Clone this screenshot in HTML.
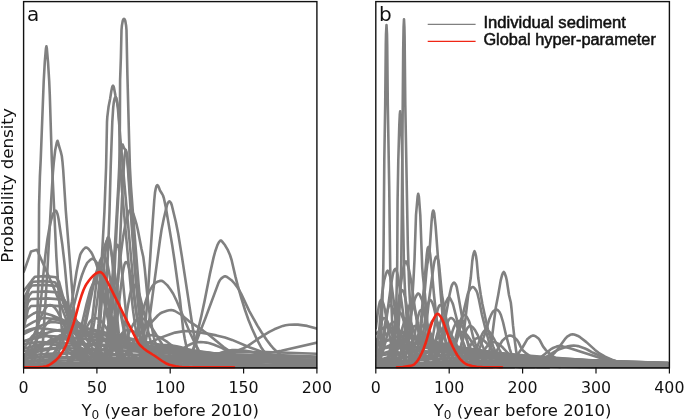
<!DOCTYPE html>
<html><head><meta charset="utf-8"><title>Probability density of Y0</title>
<style>
html,body{margin:0;padding:0;background:#fff}
body{width:685px;height:420px;overflow:hidden}
text{font-family:"DejaVu Sans","Liberation Sans",sans-serif;fill:#111}
.tk{font-size:15.8px}
.lb{font-size:16px}
.pl{font-size:20px}
.lg{font-family:"Liberation Sans","DejaVu Sans",sans-serif;font-size:15.8px;stroke:#111;stroke-width:0.5px}
</style></head><body>
<svg width="685" height="420" viewBox="0 0 685 420" style="display:block">
<rect width="685" height="420" fill="#fff"/>
<clipPath id="clipa"><rect x="23.6" y="1.6" width="293.29999999999995" height="367.7"/></clipPath>
<g clip-path="url(#clipa)" fill="none" stroke-linejoin="round" stroke-linecap="round">
<path d="M24 367.3 28.9 366.9 31 366.5 31.8 366 32.6 364.9 33.4 363.2 35 358 35.9 350 36.8 335 38.3 283.3 38.8 257 39.1 205 39.9 176.4 40.7 160 43.7 81.5 44.8 61.9 45.7 51.2 46 48.2 46.4 46.3 46.8 48.2 48 61.9 49.2 81.1 49.8 95 51.8 160 56.4 257 59.3 301.4 61.6 327 63.2 340.5 64 345 66.2 353.8 68.5 359.8 70 362 72.1 363.7 74.3 364.9 80 367.3" stroke="#808080" stroke-width="2.6"/>
<path d="M24 367.3 33.2 366.5 36 366 36.8 365.6 37.5 364.6 39 361.4 40.5 356.5 42 350 42.7 344.3 43.4 335.1 47.3 272 51.2 200 52.9 172.8 53.8 162.5 55.2 150.2 56.8 142.5 57.5 140.8 58.2 142.7 59 146 60.8 151.9 61.8 156 62.5 161.8 63.2 170 65.8 210.7 72.5 294.4 74.7 316.3 76.1 328.1 77.6 338 79 345 80.4 349.9 82.5 356 84.6 360.3 86 362 88.8 363.8 90.9 364.8 98 367.3" stroke="#808080" stroke-width="2.6"/>
<path d="M24 367.3 28.5 365.2 30 364 30.8 362.9 32.2 358.4 33.8 351.8 36.7 335.8 38.1 325.3 41 300 44.3 264.5 45.9 250.5 47.5 238.7 49.2 229 50.7 221.9 52.1 216.5 53.5 213 55 211 55.8 210.6 56.5 211.4 57.3 213.4 58 216 58.7 219.7 62.4 245.3 64.7 264.8 67.2 291.9 70.1 319.9 71.6 331.6 73 340 75.1 348.3 76.5 352.9 77.9 356.5 79.3 359.1 81.4 361.4 83.5 362.9 92 367.3" stroke="#808080" stroke-width="2.6"/>
<path d="M88 367.3 95.1 365.8 98.6 364.7 100 364 100.7 363.4 102.1 361.3 104.2 355.7 107 345 107.8 340.6 109.4 327.4 111 310 111.8 299.6 118.3 186.4 119.2 167 119.6 151.2 119.9 122 120.1 80 120.9 57 121.5 30 121.9 25.6 122.7 21 123.1 19.8 123.5 19.2 124 18.9 124.5 19.2 124.9 19.8 125.3 21 126.1 25.6 126.5 30 127.4 75 129.3 146.6 129.9 167 130.9 185.8 134.2 229.7 138.7 285.5 140.2 302.7 141.7 316.2 143.9 333.2 145.3 341.9 147.4 349.9 148.8 354.2 150.2 357.7 151.6 360.3 152.3 361.3 154.4 363 157.9 364.8 165 367.3" stroke="#808080" stroke-width="2.6"/>
<path d="M80 367.3 87.1 365.9 89.2 365.3 92 364 92.7 363 93.4 361 94.9 354.3 97 340 98.5 323.7 100 300 101.9 257 104.4 212 106.1 167 107 122 107.3 117.2 108.6 106.4 110.1 98.9 111.3 91.3 112.2 87 112.6 86.1 113 85.7 113.4 86.1 113.8 87 115.5 95.8 117.3 103.5 118.2 108 118.8 113.3 119.3 122 120.5 167 121.9 189.3 131.6 297.1 133 310 135.2 325.9 136.8 334.9 138.2 342.1 141.1 351.9 142.5 355.8 143.9 359 145.3 361.3 146 362 148.1 363.4 150.9 364.8 158 367.3" stroke="#808080" stroke-width="2.6"/>
<path d="M84 367.3 90.4 366 93.2 365.3 96 364 96.8 363.1 97.5 361.5 98.2 359.2 99.8 352.7 102 340 102.7 334.7 104.1 319.3 105.5 300 107.8 257 109.5 212 110.7 167 112.3 122 113.2 107.7 113.8 102.3 114.5 99 115 97.6 115.5 97 116.2 97.9 116.8 100 117.7 106.1 120.5 140 134.6 297.1 136 310 139 330.8 140.5 339 142 345 144.9 353.3 146.4 356.7 147.8 359.4 149.3 361.3 152.1 363.4 154.9 364.7 162 367.3" stroke="#808080" stroke-width="2.6"/>
<path d="M92 367.3 99.8 364.7 101.9 363.6 104 362 104.8 360.7 105.5 358.4 106.2 355.1 108.5 341.2 110.8 322.9 112.4 303.6 114.8 266.7 117 220 120.2 161.8 121 152 121.8 146.8 122.6 144.5 124 148 125.5 150 126.2 153 127 158 128 169.8 132 230 135.2 271.2 138.9 308.7 141 325 144.5 343.7 145.9 349.3 147.3 353.5 149.4 357.2 151.5 359.9 153.6 361.9 157.9 365.4 160 367.3" stroke="#808080" stroke-width="2.6"/>
<path d="M96 367.3 103.8 364.7 105.9 363.6 108 362 108.8 360.7 109.5 358.4 110.2 355.1 112.5 341.2 114.8 322.9 117.2 292.2 118.8 266.9 122 199.3 123.8 166.7 124.5 157 125.2 152.2 125.8 150 126.5 151.9 127.2 156 128.1 165.4 130.7 202.2 135 270 137.9 302.2 140 320 143.5 340.4 144.9 346.6 146.3 351.3 147.7 354.5 149.9 358.1 152.1 360.9 158 367.3" stroke="#808080" stroke-width="2.6"/>
<path d="M92 367.3 100.4 363.9 103.9 361.9 106 360 106.7 358.9 108.2 354.5 109.6 347.8 111.1 339.4 114.7 314.4 119 270 121.1 251.8 123.2 236.4 125.5 223.8 127 217.5 128.7 212.1 129.5 210.5 130.2 209.8 130.8 209.4 131.7 210.3 133.3 213.7 134.8 218.3 136.4 223.8 137.9 230.2 141.5 249 143.3 257 144.7 268.1 147.6 298 149 310 152.5 330.8 153.9 337.5 155.3 342.8 157.5 349 159.8 354.3 162 358.5 163.5 360.6 165 362 167.9 363.7 170.8 364.9 178 367.3" stroke="#808080" stroke-width="2.6"/>
<path d="M128 367.3 135.1 364.2 136.6 363.3 138 362 138.8 360.8 139.5 358.7 141 352.6 143.2 339.8 144.7 329.9 145.4 323.6 147.5 300 151 245.2 154.2 201 155 192.6 155.7 188.8 156.3 186.5 156.9 185.5 157.4 185.1 158 185.7 158.6 186.8 160 190.5 162.2 194 163 195.5 164 198.7 165.8 207.3 172.2 245.1 174.5 260.2 180 300 183.2 329.6 184.8 339 187 349.6 188.5 354.8 189.2 356.7 190 358 191.4 359.8 192.8 361.2 194.9 362.9 202 367.3" stroke="#808080" stroke-width="2.6"/>
<path d="M128 367.3 135.8 364.6 137.9 363.5 140 362 140.7 361.1 141.4 359.6 142.8 355 145.6 342.1 148.4 326.5 160 240 161.5 230 163.8 218.5 167 205.1 167.8 203 168.6 201.9 169.4 201.4 170.2 201.9 171 203 171.8 205.2 175.9 222.2 178.2 233.8 181.8 255.9 192.9 328.7 194.3 336.8 196.5 345.9 198.8 353.3 200.2 356.8 201 358 203.2 360.4 205.3 362.1 214 367.3" stroke="#808080" stroke-width="2.6"/>
<path d="M180 367.3 185.1 364.4 186.5 363.4 188 362 188.7 361 190.1 358.1 193 350 195.2 341.9 201.4 315.7 204.5 301.4 209.8 274.4 213.6 257.4 215.2 251.5 217.5 244.9 219 242 219.9 241 220.8 240.5 221.5 240.8 222.2 241.6 225.1 245.3 227.9 250.2 230 255 231.6 260 235.5 276.9 237.7 285.4 241.4 298.4 245 310 248.6 320.2 252.3 329.2 257.3 340.2 260.9 346.9 263 350 267.2 354.9 270.8 358.2 273.6 360.2 276.4 361.7 280.7 363.3 295 367.3" stroke="#808080" stroke-width="2.6"/>
<path d="M178 367.3 183.7 363.7 186.6 361.4 188.8 359 190.2 356.5 194.8 346 198.8 335 205.2 318.8 218.6 282.6 220 280 221.4 278.4 223.6 276.7 225 276.2 225.7 276.3 227.1 277 231.5 280.2 234.5 283.5 237.5 287.5 239 289.8 241.2 293.9 249.3 311.1 257.4 325.6 261.8 332.7 266.9 340.2 270.6 345.1 273.5 348.5 277.1 352 281.4 355.6 285 358.3 288.6 360.3 292.1 361.8 296.4 363.3 312 367.3" stroke="#808080" stroke-width="2.6"/>
<path d="M118 367.3 123.7 362.7 126.6 359.9 128.7 356.8 130.2 353.5 132.4 347.1 136.7 332.7 143 310 147.2 296.6 149.3 291.3 152.2 286.4 154.5 283.6 156 282.5 158.2 281.4 159.8 280.9 161.2 280.8 162 280.9 163.6 281.9 167.4 285.4 170.3 289.2 173.2 293.7 176.8 301.2 190.3 333.5 196.2 345.9 198.5 349.9 200 352 202.8 355.4 205.6 358.4 208.5 360.9 210.6 362.3 212.7 363.3 216.4 364.5 228 367.3" stroke="#808080" stroke-width="2.6"/>
<path d="M110 367.3 119.1 359.7 124 355 126.8 351.5 134.5 339.6 138 335 142.2 330.7 150.7 323.1 157.8 315.5 159.9 313.7 162 312.5 167 310.7 169.1 310.2 171.2 310 172.7 310.2 174.9 311 180.8 314.5 188.9 321.1 203.2 330.7 208.2 334.3 223.6 347 232.1 352.9 237.9 356.5 243.6 359.4 249.3 361.6 255.7 363.5 270 367.3" stroke="#808080" stroke-width="2.6"/>
<path d="M190 367.3 210 361 225.7 354.7 237.9 350.5 242.9 348.5 247.9 345.9 258.6 338.4 269.3 331.8 274.3 329.3 282.8 325.9 285.6 325.2 289.2 324.8 294.3 324.5 297.9 324.6 307.2 325.9 317.5 328.8" stroke="#808080" stroke-width="2.6"/>
<path d="M200 367.3 219.3 364.1 227.9 362.5 233.6 361.1 245 357.3 250 356 257.1 354.6 274.3 352 281.4 350.7 317.5 342.5" stroke="#808080" stroke-width="2.6"/>
<path d="M100 367.3 112.9 361.5 119.3 358.4 122.9 356.4 132.1 350.6 135.7 348.6 161.4 337.4 170.1 334.2 175.1 332.6 182.4 331.4 187.5 331 193.4 331.5 207.1 333.6 216.4 335.4 225 337.5 232.1 339.9 250 347.5 262.9 352.1 274.3 355.8 287.9 359.9 296.4 362.2 304.2 363.8 317 366" stroke="#808080" stroke-width="2.6"/>
<path d="M40 367.3 47.8 363.3 49.9 361.8 52 360 52.7 359.2 54.1 356.7 56.3 351.7 67 320.7 70.5 308 72 301.2 76.5 272 78.8 260.6 80.2 254.8 81 253 83.2 249.6 84.8 248.1 85.5 247.6 86.2 247.5 87 247.7 88.6 249 91 252 92.4 254.4 95.3 261.2 98.2 269.9 100.4 278.4 104 295 110 325 114.2 341.9 115.6 346.5 117 350 119.2 354.4 121.5 358.2 123.8 361.1 125.2 362.5 127.4 363.8 129.5 364.7 138 367.3" stroke="#808080" stroke-width="2.6"/>
<path d="M40 367.3 48.4 363.6 52.6 361.1 54 360 55.5 358.3 57.7 354.3 61.3 345.2 65.8 332.9 68 326 74 305 79.8 282.1 82 275 85 267.3 87.2 262.9 90.2 259.8 91.8 258.9 92.5 258.8 93.2 258.9 94.8 260.1 97 263 98.5 265.9 100 270 104.4 285.2 109.3 307 115.6 333.3 118.5 342.3 121.4 350.2 123.5 354.8 125 357 126.4 358.7 130.1 361.8 138 367.3" stroke="#808080" stroke-width="2.6"/>
<path d="M70 367.3 79.1 363.5 81.9 361.8 84 360 84.7 359.1 86.2 356.2 88.4 349.6 92 335 94.2 322.5 98 295 101.2 267.9 103.5 252.1 104.2 247.9 105 245 106.7 240.8 107.5 240 108.3 241 109.2 243.2 110.8 249.2 111.6 253.3 114.8 272.8 120 310 123.8 330.6 125.2 337.2 126.7 342.4 130.4 353.3 131.8 356.6 133.3 359.1 135.4 361.3 137.5 362.9 146 367.3" stroke="#808080" stroke-width="2.6"/>
<path d="M23.6 367.8 86.6 367.7 89.4 367.4 90.8 366.9 92.2 365.9 92.9 365.1 94.3 362.4 95.7 357.9 97.1 350.7 98.5 340.2 100.6 317.5 104.1 268.7 105.5 251.8 106.9 240.6 107.6 237.8 108.3 237 109 238 109.7 240.4 110.4 244.3 111.8 255.6 117.4 319.8 118.8 333.2 120.2 344 121.6 352.2 122.3 355.4 123.7 360.2 124.4 361.9 125.8 364.5 126.5 365.3 127.9 366.5 129.3 367.1 130.7 367.5 136.3 367.8 316.9 367.8" stroke="#808080" stroke-width="2.6"/>
<path d="M23.6 367.8 93.6 367.7 95.7 367.6 97.8 367.1 99.2 366.3 100.6 364.9 102 362.4 103.4 358.4 104.8 352.2 106.2 343.4 108.3 324.7 113.9 259.9 115.3 249.4 116 246.2 116.7 244.7 117.4 244.7 118.1 246 118.8 248.5 120.2 256.7 122.3 275.2 127.2 325.2 128.6 336.6 130 345.8 131.4 352.9 133.5 360.1 134.2 361.8 135.6 364.2 136.3 365 137.7 366.2 139.1 367 141.2 367.5 146.8 367.8 316.9 367.8" stroke="#808080" stroke-width="2.6"/>
<path d="M23.6 367.8 75.4 367.7 78.2 367.3 80.3 366.5 81.7 365.4 83.1 363.8 84.5 361.2 85.9 357.5 87.3 352.2 88.7 345.2 90.1 336.3 91.5 325.7 95.7 288.4 97.8 272.5 99.2 265.4 99.9 263.3 100.6 262.2 101.3 262.1 102 262.8 102.7 264.4 103.4 266.7 104.8 273.3 106.9 287.2 112.5 330.1 114.6 342.9 116 349.6 117.4 354.9 119.5 360.5 121.6 364 123 365.4 124.4 366.3 125.8 366.9 127.9 367.4 130.7 367.7 134.9 367.8 316.9 367.8" stroke="#808080" stroke-width="2.6"/>
<path d="M23.6 367.8 98.5 367.8 101.3 367.6 103.4 367.2 105.5 366.3 106.9 365.2 108.3 363.5 109 362.3 110.4 359 111.8 354.3 113.2 347.9 114.6 339.7 116 329.7 120.9 286.7 122.3 275.8 123.7 267.6 124.4 264.7 125.1 262.9 125.8 262 126.5 262.2 127.2 262.9 127.9 264.3 129.3 268.9 130.7 275.5 132.8 288.3 138.4 326.8 140.5 338.9 142.6 348.5 144.7 355.6 146.8 360.5 148.9 363.6 150.3 365 151.7 366 153.8 366.9 155.9 367.4 158.7 367.7 162.9 367.8 316.9 367.8" stroke="#808080" stroke-width="2.6"/>
<path d="M23.6 367.8 82.4 367.7 85.9 367.4 88 366.9 90.1 365.8 91.5 364.7 93.6 361.9 95 359.1 96.4 355.4 97.8 350.7 99.2 344.8 101.3 333.9 105.5 308.3 107.6 296.6 109.7 288.4 110.4 286.6 111.1 285.5 111.8 285 112.5 285.1 113.2 285.6 113.9 286.5 115.3 289.4 116.7 293.7 119.5 305.3 125.8 335.8 127.9 344.4 130 351.4 132.1 356.8 133.5 359.6 134.9 361.8 136.3 363.5 137.7 364.8 140.5 366.4 142.6 367 145.4 367.5 153.1 367.8 316.9 367.8" stroke="#808080" stroke-width="2.6"/>
<path d="M23.6 367.8 103.4 367.7 106.9 367.5 109 367.2 111.1 366.4 112.5 365.6 114.6 363.4 116 361.2 118.1 356.3 119.5 351.8 120.9 346.1 123 335.6 127.9 305.9 130 294.7 131.4 289.3 132.1 287.3 132.8 285.9 133.5 285.2 134.2 285 134.9 285.3 135.6 285.9 137 288 138.4 291.4 139.8 295.7 142.6 306.8 149.6 337.5 151.7 345.1 153.8 351.4 155.9 356.4 157.3 359 158.7 361.1 160.1 362.8 161.5 364.2 164.3 365.9 166.4 366.7 169.2 367.3 172.7 367.6 177.6 367.8 316.9 367.8" stroke="#808080" stroke-width="2.6"/>
<path d="M23.6 272 24.5 270 31 251.5 37 249.8 53 286 60 303 72 335 79 349 88 359 100 365 115 367.3" stroke="#808080" stroke-width="2.6"/>
<path d="M23.6 291 32 280.2 35 276.7 45.5 276.1 56 277.3 59 281.7 70 323 78 333 88 350.1 100 361.3 115 364.3 160 366.8" stroke="#808080" stroke-width="2.6"/>
<path d="M23.6 300 30 285.2 33 281.7 44 281.1 55 282.3 58 286.7 72 330 80 340 90 353.6 102 361.3 117 364.3 162 366.8" stroke="#808080" stroke-width="2.6"/>
<path d="M23.6 308 29 289 32 285.5 44.5 284.9 57 286.1 60 290.5 76 335 84 345 94 356.1 106 361.3 121 364.3 166 366.8" stroke="#808080" stroke-width="2.6"/>
<path d="M23.6 316 29 295.5 32 292 46 291.4 60 292.6 63 297 82 340 90 350 100 358.6 112 361.3 127 364.3 172 366.8" stroke="#808080" stroke-width="2.6"/>
<path d="M23.6 322 28 302.5 31 299 47.5 298.4 64 299.6 67 304 90 345 98 355 108 361.1 120 361.3 135 364.3 180 366.8" stroke="#808080" stroke-width="2.6"/>
<path d="M23.6 329 28 309.5 31 306 48.5 305.4 66 306.6 69 311 98 349 106 359 116 363.1 128 361.3 143 364.3 188 366.8" stroke="#808080" stroke-width="2.6"/>
<path d="M23.6 320.5 29.6 316 33.6 313.5 35.6 312.6 37.6 312 39.6 312.1 45.6 313.4 51.6 315.3 59.6 318.5 69.6 322.9 91.6 333.3 101.6 337.8 113.6 342.9 123.6 346.7 135.6 350.7 149.6 354.6 163.6 357.9 177.6 360.4 189.6 362.1 203.6 363.7 217.6 364.9 231.6 365.7 247.6 366.4 267.6 367 315.6 367.6" stroke="#808080" stroke-width="2.6"/>
<path d="M23.6 327.9 29.6 324.2 33.6 321.9 39.6 319.1 43.6 318 47.6 318.3 51.6 318.9 57.6 320.1 71.6 323.8 83.6 327.5 119.6 339.4 131.6 343.1 143.6 346.5 163.6 351.5 173.6 353.7 185.6 356 197.6 358 211.6 360 225.6 361.6 241.6 363.2 257.6 364.3 275.6 365.3 293.6 366.1 315.6 366.7" stroke="#808080" stroke-width="2.6"/>
<path d="M23.6 334.2 37.6 327.2 45.6 323.7 49.6 322.4 51.6 322 55.6 322.3 65.6 323.7 79.6 326.5 133.6 339.2 157.6 344.5 179.6 348.9 199.6 352.3 225.6 356 253.6 359.2 283.6 361.8 315.6 363.8" stroke="#808080" stroke-width="2.6"/>
<path d="M23.6 331.7 29.6 329.5 33.6 328.4 35.6 328 43.6 328.6 55.6 330.1 69.6 332.4 125.6 342.7 151.6 347.2 173.6 350.6 195.6 353.6 223.6 356.9 251.6 359.6 281.6 361.8 315.6 363.7" stroke="#808080" stroke-width="2.6"/>
<path d="M23.6 341.5 41.6 334.6 51.6 331.5 55.6 330.6 59.6 330 67.6 330.4 81.6 331.9 97.6 334.1 115.6 337.1 177.6 347.8 199.6 351.2 219.6 354 241.6 356.7 265.6 359.1 289.6 361.2 315.6 362.9" stroke="#808080" stroke-width="2.6"/>
<path d="M23.6 341.3 35.6 338.2 41.6 336.9 45.6 336.2 49.6 336 57.6 336.5 71.6 337.6 87.6 339.2 171.6 348.9 217.6 353.7 241.6 355.8 265.6 357.7 289.6 359.4 315.6 361" stroke="#808080" stroke-width="2.6"/>
<path d="M23.6 348.7 45.6 342.7 57.6 339.8 63.6 338.7 67.6 338.2 69.6 338 75.6 338.2 91.6 339.3 111.6 341.3 193.6 351.4 233.6 355.8 273.6 359.3 315.6 362.2" stroke="#808080" stroke-width="2.6"/>
<path d="M23.6 344 33.6 342.6 39.6 342 59.6 342.8 91.6 345 177.6 352 221.6 355.2 267.6 358.2 315.6 360.7" stroke="#808080" stroke-width="2.6"/>
<path d="M23.6 354.6 55.6 348.2 67.6 346 79.6 344.4 83.6 344 87.6 344 103.6 344.7 123.6 346.1 241.6 356.5 279.6 359.3 315.6 361.5" stroke="#808080" stroke-width="2.6"/>
<path d="M23.6 351 39.6 349.2 51.6 348.1 55.6 348 69.6 348.3 113.6 350.3 243.6 357.2 315.6 360.4" stroke="#808080" stroke-width="2.6"/>
<path d="M23.6 359.1 79.6 351.7 93.6 350.3 101.6 350 123.6 350.5 153.6 351.8 265.6 357.8 315.6 360.3" stroke="#808080" stroke-width="2.6"/>
<path d="M23.6 355.7 43.6 354.1 57.6 353.3 65.6 353 75.6 353.1 129.6 354.5 315.6 360.7" stroke="#808080" stroke-width="2.6"/>
<path d="M23.6 361.2 91.6 356.3 107.6 355.4 119.6 355 145.6 355.4 179.6 356.3 315.6 360.9" stroke="#808080" stroke-width="2.6"/>
<path d="M23.6 357.9 49.6 357 77.6 357.3 137.6 358.3 315.6 361.9" stroke="#808080" stroke-width="2.6"/>
<path d="M23.6 361.9 67.6 360.5 91.6 360 165.6 360.7 315.6 362.6" stroke="#808080" stroke-width="2.6"/>
<path d="M23.6 364.1 111.6 361.7 149.6 361 213.6 361.4 315.6 362.7" stroke="#808080" stroke-width="2.6"/>
<path d="M23.6 364 61.6 363.6 83.6 363.5 315.6 364.9" stroke="#808080" stroke-width="2.6"/>
<path d="M23.6 367.7 32.6 367.3 35.6 366.9 38.6 366.2 41.6 365.1 43.1 364.4 46.1 362.4 47.6 361.1 50.6 357.8 52.1 355.8 55.1 351.1 65.6 331.2 68.6 326.5 70.1 324.7 71.6 323.3 73.1 322.4 74.6 322 76.1 322.1 77.6 322.5 79.1 323.2 80.6 324.2 83.6 326.9 88.1 332.7 97.1 346.2 100.1 350.5 104.6 356 107.6 358.9 110.6 361.3 115.1 364 118.1 365.2 122.6 366.4 130.1 367.4 143.6 367.8 316.1 367.8" stroke="#808080" stroke-width="2.6"/>
<path d="M23.6 367.8 52.1 367.8 58.1 367.6 61.1 367.3 64.1 366.7 67.1 365.5 68.6 364.5 70.1 363.3 71.6 361.7 73.1 359.7 74.6 357.2 76.1 354.1 79.1 345.9 80.6 340.8 83.6 328.6 91.1 292 94.1 279.4 95.6 274.5 97.1 270.9 98.6 268.7 100.1 268 101.6 269.6 103.1 273.7 104.6 280.2 106.1 288.5 112.1 327.4 115.1 343.4 116.6 349.6 118.1 354.6 119.6 358.5 121.1 361.4 122.6 363.5 124.1 365 125.6 366.1 127.1 366.7 130.1 367.4 137.6 367.8 316.1 367.8" stroke="#808080" stroke-width="2.6"/>
<path d="M23.6 367.8 52.1 367.7 56.6 367.6 61.1 367.1 64.1 366.4 65.6 365.8 68.6 364.2 71.6 361.5 73.1 359.7 74.6 357.4 76.1 354.6 77.6 351.3 80.6 342.9 82.1 337.8 83.6 332.1 86.6 319.1 92.6 289.5 95.6 275.7 98.6 264.6 100.1 260.6 101.6 257.8 103.1 256.2 104.6 256.2 106.1 259 107.6 264.6 109.1 272.6 110.6 282.4 116.6 325.8 119.6 342.9 121.1 349.4 122.6 354.6 124.1 358.6 125.6 361.5 127.1 363.7 128.6 365.1 130.1 366.1 131.6 366.8 134.6 367.5 142.1 367.8 316.1 367.8" stroke="#808080" stroke-width="2.6"/>
<path d="M23.6 367.8 49.1 367.8 53.6 367.6 58.1 367.2 61.1 366.5 64.1 365.3 67.1 363 68.6 361.4 70.1 359.3 71.6 356.8 73.1 353.7 76.1 345.9 77.6 341 80.6 329.7 86.6 303.9 89.6 292.5 91.1 287.9 92.6 284.4 94.1 282.1 95.6 281 97.1 281.4 98.6 283.4 100.1 286.8 101.6 291.5 104.6 303.9 109.1 325.1 112.1 338.1 115.1 348.6 116.6 352.8 118.1 356.3 119.6 359.1 121.1 361.4 122.6 363.1 124.1 364.5 127.1 366.2 128.6 366.7 131.6 367.3 134.6 367.6 140.6 367.8 316.1 367.8" stroke="#808080" stroke-width="2.6"/>
<path d="M23.6 367.8 46.1 367.8 55.1 367.4 58.1 366.9 61.1 366.1 64.1 364.8 65.6 363.9 68.6 361.5 70.1 359.8 73.1 355.8 74.6 353.3 77.6 347.5 86.6 327.4 89.6 322.1 91.1 320.2 92.6 318.8 94.1 318.1 95.6 318 97.1 318.4 98.6 319.1 100.1 320.2 103.1 323.3 107.6 330 118.1 348 122.6 354.5 125.6 357.9 128.6 360.7 130.1 361.9 133.1 363.8 136.1 365.1 140.6 366.4 143.6 367 148.1 367.4 160.1 367.8 316.1 367.8" stroke="#808080" stroke-width="2.6"/>
<path d="M23.6 367.8 94.1 367.7 101.6 367.2 104.6 366.6 107.6 365.6 110.6 363.9 112.1 362.8 115.1 359.8 116.6 357.9 119.6 353.3 122.6 347.5 130.1 330.5 133.1 324.5 134.6 322.1 136.1 320.2 137.6 318.8 139.1 318.1 140.6 318 142.1 318.3 143.6 319 145.1 320 146.6 321.2 149.6 324.6 154.1 331.2 164.6 348.2 167.6 352.4 170.6 356.1 173.6 359.1 178.1 362.5 181.1 364.1 185.6 365.8 188.6 366.5 193.1 367.2 197.6 367.5 205.1 367.7 316.1 367.8" stroke="#808080" stroke-width="2.6"/>
<path d="M23.6 367.8 89.6 367.7 100.1 367.1 104.6 366.4 107.6 365.8 110.6 364.8 113.6 363.6 116.6 361.9 119.6 359.9 122.6 357.5 125.6 354.7 136.1 343.5 140.6 339.2 143.6 337 145.1 336.2 148.1 335.2 149.6 335 152.6 335.2 155.6 335.8 158.6 336.9 161.6 338.3 167.6 342.2 182.6 353.8 190.1 358.7 194.6 361.1 199.1 363 203.6 364.5 208.1 365.6 212.6 366.4 218.6 367 232.1 367.7 316.1 367.8" stroke="#808080" stroke-width="2.6"/>
<path d="M23.6 367.8 80.6 367.7 88.1 367.1 91.1 366.6 94.1 365.8 97.1 364.5 98.6 363.6 101.6 361.4 103.1 360 106.1 356.7 109.1 352.6 118.1 338.4 121.1 334.3 122.6 332.7 124.1 331.4 125.6 330.6 127.1 330.1 128.6 330 130.1 330.2 133.1 331.2 136.1 333 139.1 335.4 143.6 339.9 155.6 353.2 160.1 357.4 163.1 359.7 166.1 361.6 170.6 363.9 173.6 365 178.1 366.2 182.6 366.9 187.1 367.3 199.1 367.7 316.1 367.8" stroke="#808080" stroke-width="2.6"/>
<path d="M23.6 367.8 124.1 367.7 137.6 367.3 146.6 366.4 154.1 364.9 158.6 363.4 161.6 362.2 164.6 360.7 169.1 358.2 184.1 347.9 188.6 345.2 191.6 343.8 194.6 342.8 197.6 342.2 200.6 342 203.6 342.2 206.6 342.6 209.6 343.3 214.1 344.7 221.6 347.9 236.6 355.5 244.1 359 251.6 361.9 256.1 363.3 260.6 364.4 269.6 366.1 281.6 367.2 295.1 367.6 316.1 367.8" stroke="#808080" stroke-width="2.6"/>
<path d="M23.6 367.8 86.6 367.6 98.6 367.1 104.6 366.6 109.1 365.9 113.6 365 118.1 363.9 125.6 361.2 133.1 357.7 148.1 349.7 154.1 347.1 157.1 346.1 160.1 345.4 164.6 345 167.6 345.1 172.1 345.5 176.6 346.2 181.1 347.3 190.1 350.2 208.1 357.1 217.1 360.3 227.6 363.2 238.1 365.2 250.1 366.6 263.6 367.4 281.6 367.7 316.1 367.8" stroke="#808080" stroke-width="2.6"/>
<path d="M23.6 367.8 148.1 367.8 163.1 367.5 173.6 366.9 182.6 365.8 191.6 363.9 200.6 360.9 215.6 354.6 221.6 352.4 226.1 351.1 229.1 350.5 232.1 350.1 235.1 350 242.6 350.4 250.1 351.6 259.1 353.8 280.1 360 290.6 362.8 302.6 365 316.1 366.6" stroke="#808080" stroke-width="2.6"/>
<path d="M23.6 367.8 47.6 367.7 58.1 367.5 67.1 366.8 74.6 365.4 80.6 363.5 86.6 360.6 92.6 356.7 104.6 348 109.1 345.3 113.6 343.6 116.6 343.1 118.1 343 121.1 343.2 125.6 343.9 128.6 344.7 133.1 346.4 139.1 349.1 155.6 357.7 161.6 360.4 166.1 362.1 170.6 363.6 175.1 364.7 184.1 366.3 196.1 367.3 211.1 367.7 316.1 367.8" stroke="#808080" stroke-width="2.6"/>
<path d="M23.6 367.6 28.1 367.2 32.6 366.2 35.6 364.9 38.6 362.9 41.6 360.1 44.6 356.3 47.6 351.8 53.6 342.1 56.6 338.2 58.1 336.7 59.6 335.6 61.1 335.1 62.6 335 64.1 335.2 67.1 336.3 68.6 337.1 71.6 339.3 76.1 343.7 86.6 354.9 91.1 358.9 94.1 361.1 97.1 362.9 101.6 364.9 106.1 366.2 110.6 366.9 118.1 367.5 131.6 367.8 316.1 367.8" stroke="#808080" stroke-width="2.6"/>
<path d="M23.6 367.8 86.6 367.6 100.1 367.3 112.1 366.4 122.6 364.9 131.6 363 140.6 360.5 157.1 355.4 164.6 353.5 172.1 352.3 178.1 352 187.1 352.4 197.6 353.8 206.6 355.6 227.6 360.5 236.6 362.4 247.1 364.2 256.1 365.5 268.1 366.6 280.1 367.2 295.1 367.6 316.1 367.8" stroke="#808080" stroke-width="2.6"/>
<path d="M23.6 367.8 118.1 367.7 133.1 367.5 145.1 367 155.6 366.1 164.6 364.9 175.1 362.9 191.6 359.1 199.1 357.5 206.6 356.5 214.1 356 224.6 356.3 235.1 357.1 245.6 358.4 272.6 362.6 286.1 364.4 301.1 365.9 316.1 366.9" stroke="#808080" stroke-width="2.6"/>
<path d="M23.6 367.8 157.1 367.8 175.1 367.6 187.1 367.3 197.6 366.7 208.1 365.6 218.6 364 244.1 359.3 251.6 358.4 259.1 358 269.6 358.3 280.1 359.2 289.1 360.3 316.1 364.1" stroke="#808080" stroke-width="2.6"/>
<path d="M23.6 367.2 46.1 366.7 68.6 366 88.6 365.1 108.6 363.9 126.1 362.5 143.6 360.9 208.6 354.2 221.1 353.2 233.6 352.4 248.6 352 266.1 352.1 288.6 352.7 316.1 353.7" stroke="#808080" stroke-width="2.6"/>
<path d="M23.6 366.4 56.1 365.2 86.1 363.6 116.1 361.6 181.1 356.5 198.6 355.5 213.6 354.8 228.6 354.5 256.1 354.8 283.6 355.4 316.1 356.5" stroke="#808080" stroke-width="2.6"/>
<path d="M23.6 367.1 71.1 366.2 113.6 364.7 151.1 362.9 223.6 358.8 251.1 357.6 278.6 357 316.1 357.4" stroke="#808080" stroke-width="2.6"/>
<path d="M23.6 366.6 53.6 365.6 81.1 364.2 108.6 362.3 166.1 357.8 181.1 356.9 196.1 356.3 211.1 356 243.6 356.2 278.6 356.8 316.1 357.7" stroke="#808080" stroke-width="2.6"/>
<path d="M23.6 367.6 76.1 367.1 121.1 366.3 166.1 364.8 238.6 361.5 263.6 360.6 291.1 360 316.1 360.2" stroke="#808080" stroke-width="2.6"/>
<path d="M23.6 357.2 26 353.4 29.6 346.1 33.2 337.2 39.2 321.2 42.8 312.8 45.2 308.6 46.4 307 47.6 305.9 48.8 305.2 50 305 51.2 305.2 52.4 305.7 53.6 306.6 54.8 307.8 57.2 311 60.8 317.8 70.4 339.9 74 347.4 76.4 351.7 78.8 355.4 81.2 358.4 83.6 360.9 86 362.8 89.6 364.9 92 365.8 95.6 366.7 99.2 367.2 104 367.6 122 367.8" stroke="#808080" stroke-width="2.6"/>
<path d="M23.6 358.8 27.2 354.7 30.8 349.7 34.4 343.9 42.8 329.3 46.4 324 48.8 321.2 51.2 319.2 53.6 318.2 56 318.1 57.2 318.4 59.6 319.6 60.8 320.5 63.2 322.9 65.6 325.9 68 329.4 77.6 345.2 82.4 352.2 84.8 355.2 87.2 357.7 89.6 359.9 93.2 362.6 95.6 363.9 99.2 365.4 102.8 366.3 106.4 367 111.2 367.4 116 367.6 135.2 367.8" stroke="#808080" stroke-width="2.6"/>
<path d="M23.6 349 29.6 339.6 32 336.5 33.2 335.3 35.6 333.6 36.8 333.1 38 333 40.4 333.2 42.8 333.7 45.2 334.5 50 337.1 56 341.5 68 351.9 74 356.5 77.6 358.9 81.2 360.9 84.8 362.6 88.4 364 92 365 96.8 366.1 101.6 366.8 107.6 367.3 120.8 367.7 146 367.8" stroke="#808080" stroke-width="2.6"/>
<path d="M23.6 361 27.2 358.7 30.8 356 44 344.5 48.8 341 52.4 339.1 54.8 338.4 57.2 338 59.6 338.1 62 338.4 64.4 338.9 66.8 339.7 70.4 341.2 76.4 344.6 90.8 354.4 98 358.7 105.2 362.1 108.8 363.4 113.6 364.8 118.4 365.8 123.2 366.5 134 367.4 148.4 367.7 174.8 367.8" stroke="#808080" stroke-width="2.6"/>
<path d="M23.6 357.6 34.4 349.2 39.2 346.1 41.6 345 44 344.3 46.4 344 50 344.1 56 345 62 346.8 69.2 349.7 84.8 357 92 360.1 100.4 362.9 105.2 364.2 110 365.2 120.8 366.6 132.8 367.4 149.6 367.7 182 367.8" stroke="#808080" stroke-width="2.6"/>
<path d="M23.6 367.3 37.9 367.2 42.9 366.8 46.4 366.2 49.3 365 52.1 363.1 55.7 360.4 58.6 357.4 60.7 354.6 63.6 350.1 65.7 346 67.2 342.5 73.6 323.4 75.7 316.2 79.3 302.7 81.4 295.8 83.5 290 85.1 286.5 86.7 283.7 89 280.5 91.2 277.8 93.5 275.5 95 274.2 96.5 273.2 98.6 272.3 100 272 100.8 272.2 102.5 273.5 103.3 274.4 105.7 278.2 127.9 322.9 137.7 341.9 139.2 344.1 140.7 345.8 143.6 348.4 146.4 350.6 155 356 162.1 361 165.7 363.2 169.3 364.8 175.6 366.3 179.2 366.8 182 367 234 367.3" stroke="#f02514" stroke-width="2.6"/>
</g>
<rect x="23.6" y="1.6" width="293.29999999999995" height="366.2" fill="none" stroke="#111" stroke-width="1.4"/>
<line x1="23.6" y1="367.8" x2="23.6" y2="373.6" stroke="#111" stroke-width="1.2"/>
<text x="23.6" y="393" text-anchor="middle" class="tk">0</text>
<line x1="96.9" y1="367.8" x2="96.9" y2="373.6" stroke="#111" stroke-width="1.2"/>
<text x="96.9" y="393" text-anchor="middle" class="tk">50</text>
<line x1="170.2" y1="367.8" x2="170.2" y2="373.6" stroke="#111" stroke-width="1.2"/>
<text x="170.2" y="393" text-anchor="middle" class="tk">100</text>
<line x1="243.6" y1="367.8" x2="243.6" y2="373.6" stroke="#111" stroke-width="1.2"/>
<text x="243.6" y="393" text-anchor="middle" class="tk">150</text>
<line x1="316.9" y1="367.8" x2="316.9" y2="373.6" stroke="#111" stroke-width="1.2"/>
<text x="316.9" y="393" text-anchor="middle" class="tk">200</text>
<text x="170.2" y="416" text-anchor="middle" class="lb" textLength="177.5" lengthAdjust="spacingAndGlyphs">Y<tspan dy="3" font-size="11.8">0</tspan><tspan dy="-3"> (year before 2010)</tspan></text>
<clipPath id="clipb"><rect x="375.8" y="1.6" width="293.59999999999997" height="367.7"/></clipPath>
<g clip-path="url(#clipb)" fill="none" stroke-linejoin="round" stroke-linecap="round">
<path d="M375.8 366.5 376.8 365 377.5 362.7 379 355 380 347 381 335 381.8 320.6 382.5 300 383.3 267 383.6 244.8 384.3 160 385.2 105 385.8 44.3 386 34 386.5 25 387 34 387.2 44.3 387.8 105 389.2 185.9 390.2 267 390.7 286.6 392.1 320.8 393 335 394.5 347.6 396 355 397.4 359.6 398.9 363.2 400.3 365.5 401 366 402.4 366.4 408 367.3" stroke="#808080" stroke-width="2.6"/>
<path d="M384 367.3 388.5 366.5 390 366 390.7 365.5 392.1 363.2 394.3 357.4 395.8 351.8 397.2 341.8 398 335 399 320.5 400.6 286.9 401.2 267 401.8 215 403.2 50 403.6 27 404 19.2 404.4 27 404.6 36.2 405.3 105 407.8 244.1 409.1 285.5 411.3 325.9 412 335 413.5 347.3 415 355 417.1 361.6 418.6 364.6 419.3 365.5 420 366 422.9 366.7 428 367.3" stroke="#808080" stroke-width="2.6"/>
<path d="M382 367.3 385.8 366.7 388 366 388.8 365.4 390.4 362.5 392 358 392.8 354.8 394.2 343.4 395 335 395.7 320.9 396.4 300 397.2 267 397.6 200 398.3 160 399.3 125 399.8 114.5 400.2 111.2 400.7 114.5 400.9 118.9 401.8 139.5 402.3 160 403 215 404 267 404.8 286.2 405.5 300 407.2 326.1 408 335 409.6 346.5 411.2 354.5 412 357 414.2 361.8 415.8 364.2 416.5 365 418 366 420.9 366.6 426 367.3" stroke="#808080" stroke-width="2.6"/>
<path d="M392 367.3 397.1 366.6 400 366 400.8 365.6 402.2 363.8 403.8 360.9 406 355 406.8 352 408.4 342.8 410 330 411.7 308.2 413.5 279.2 414.5 260 416 215 417.4 199.1 417.7 196 418.2 193.8 418.8 196 419.1 199 420.3 215 422.2 267 422.9 275.9 425 295 428 330 430.4 347.7 431.2 352 432.8 357.1 435 362.5 436.5 364.8 437.2 365.6 438.7 366.2 446 367.3" stroke="#808080" stroke-width="2.6"/>
<path d="M400 367.3 405.1 366.6 408 366 409.4 365.3 410.8 363.9 412.9 360.9 415 357 416.4 352.9 417.9 346.7 420 335 421.6 323 424 300 426.4 272.2 427.2 265 429.5 252.5 431.6 221.2 432.3 214 432.8 211.6 433.2 210.5 433.7 211.3 434.2 213 435.6 226.2 440.8 295 443.2 322.7 445.6 342.4 447.2 352.1 448 355 450.1 360 452.2 363.6 453.6 365.2 455 366 456.5 366.4 464 367.3" stroke="#808080" stroke-width="2.6"/>
<path d="M402 367.3 409.3 366.2 410.8 365.6 411.5 365 413 362.8 414.5 359.8 416 356 416.8 352.9 418.4 342.8 420.8 322.5 426.8 254.3 427.5 249 427.9 247.6 428.4 247 428.9 247.8 429.4 249.5 430.2 254.7 431.8 269.6 434 295 437.2 324.2 439.4 339.3 441.6 351.1 442.3 353.9 443.7 357.6 445.8 361.7 447.9 364.6 449.3 365.7 450.7 366.2 458 367.3" stroke="#808080" stroke-width="2.6"/>
<path d="M406 367.3 412.5 366.4 414 366 415.5 365.1 417 363.4 419.2 359.5 420.7 356.2 421.4 353.7 423.6 343.4 425.8 329.3 429 300 433.7 265.3 434.5 261 435.4 258 436.3 256.5 437 257 437.6 258 438.5 261 439.2 265.8 442 295 444.2 307 448 335 450.1 346.5 451.6 352.8 452.3 355.2 453.7 358.4 455.8 362 457.9 364.7 459.3 365.7 460.7 366.2 468 367.3" stroke="#808080" stroke-width="2.6"/>
<path d="M444 367.3 450.5 366.4 452 366 453.4 365.1 454.8 363.5 456.2 361.2 458.3 356.7 459.7 352.9 461.9 342.9 464 330 465.4 319.3 468.2 295 470.8 277.5 472.2 261.8 473 256 473.8 252.8 474.5 251.2 475.2 252.8 476 256 476.8 261.8 478.2 277.5 479.1 283.9 480.8 295 482.4 304 485.6 319.1 487.9 329.3 490.2 337.5 493.2 346.5 495.5 352.1 497 355 500.8 361.1 502.2 363.1 503.8 364.7 505.2 365.7 506.7 366.2 516 367.3" stroke="#808080" stroke-width="2.6"/>
<path d="M468 367.3 477.3 366.6 478.7 366.3 480.2 365.7 482.4 364.1 484.5 361.9 486 360 487.6 356.7 490 348.4 491.5 341.1 495.8 307.5 498.2 295 500.7 280.4 502.2 274.7 503 272.8 503.8 272 504.5 272.8 506 277 506.8 280.5 509 295 510.8 302.5 511.5 308.5 513 325.2 514.6 339.3 516.2 351.4 517 355 518.5 358.8 520 361.8 521.5 363.8 522.2 364.5 523 365 525.2 365.8 532 367.3" stroke="#808080" stroke-width="2.6"/>
<path d="M418 367.3 425.9 366.4 428 366 429.5 365.4 430.9 364.2 433.1 361.6 435.3 358.3 436.8 355.4 439 347.9 442.8 331.5 445.9 315.6 449.5 295 451.2 287.4 452 285 453 283.3 454 282.5 455 283.3 456 285 456.8 287.4 458.2 295 462.6 319.9 465 331.6 468.9 347.9 471.2 355.4 472.7 358.2 474.9 361.6 477.1 364.2 478.5 365.4 480 366 482.1 366.4 490 367.3" stroke="#808080" stroke-width="2.6"/>
<path d="M430 367.3 439.9 366.7 442 366.5 443.5 366.1 444.9 365.3 447.1 363.4 449.3 360.9 450.7 358.9 452.1 355.9 453.5 351.9 457.8 337.3 463.8 310.6 467.5 295 468.2 292.7 469.8 289.8 471.2 287.8 472 287.2 472.8 287 473.5 287.2 475 288.7 476.5 291 477.3 292.9 478.9 299.5 482 315 486.3 332.1 489.1 342.3 490.6 346.6 492 350 495.6 356.8 497.8 359.9 499.3 361.4 501.4 362.9 503.5 364 512 367.3" stroke="#808080" stroke-width="2.6"/>
<path d="M414 367.3 421.1 364.7 424.6 363 426.7 361.3 428.9 357.8 431.8 350.9 435.4 340.8 441 320 444.8 305 445.5 303 447.6 298.7 448.3 297.8 449 297.5 449.7 297.8 450.4 298.7 452.5 303 453.2 305 457 320 462.8 340.9 465 347 469.5 356.9 471.8 360.7 473.2 362.4 474 363 476.1 364.1 478.2 365 486 367.3" stroke="#808080" stroke-width="2.6"/>
<path d="M384 367.3 391.8 365.6 393.9 364.9 396 364 396.7 363.4 397.4 362.5 398.8 359.8 403 348 405.1 340.8 410 320 413.8 302.3 415.2 298.1 416.8 294.9 417.5 293.9 418.2 293.5 419 293.9 419.8 294.9 422 300 422.8 302.8 423.6 306.8 426 320 430.2 338.2 432.3 345.8 435.8 356.2 437.2 359.8 438.6 362.5 439.3 363.4 440 364 442.1 364.9 444.2 365.6 452 367.3" stroke="#808080" stroke-width="2.6"/>
<path d="M458 367.3 465.1 366.2 468.7 365.2 470.9 363.3 473.8 359.4 476.8 354.7 479.8 347.8 484.8 334.2 487 327.5 489.2 319.6 491.4 314.3 492.8 311.8 493.5 311 495 310 496.5 309.5 497.2 309.7 498 310.3 499.5 312 500.9 315 503 322 506 335 509.8 349.1 511.2 353.4 513.5 357.6 516.4 361.9 517.8 363.5 519.3 364.6 522.9 365.9 530 367.3" stroke="#808080" stroke-width="2.6"/>
<path d="M428 367.3 435.8 366.9 440 366.5 441.4 365.8 443.5 363.5 448.5 355.5 450.6 351.1 452.8 345.9 455.7 337.6 458.6 325.4 460 321 462.2 316.9 463.8 315.2 464.5 315 465.2 315.2 466.8 316.9 469 321 470.4 325.4 473.3 337.7 475.5 343.9 477.6 349 479.8 353.4 484.2 360.2 487.1 364 489.3 365.7 492.9 366.5 500 367.3" stroke="#808080" stroke-width="2.6"/>
<path d="M422 367.3 429.8 366.6 434 366 435.4 365.3 437.5 363 442.5 355.8 446.1 349.4 448.3 344.7 449.7 341 452.6 330.9 454 327 455.4 324.2 456.8 321.9 457.5 321.3 458.2 321 459 321.3 460.4 323 463.3 328.7 467.2 341 470.9 349.4 474.5 355.9 478.2 360.9 481.1 364.2 483.3 365.7 486.9 366.5 494 367.3" stroke="#808080" stroke-width="2.6"/>
<path d="M470 367.3 482.1 365.7 485 365 487.2 363.8 490.1 360.8 495.2 354 500.2 344.2 502.3 340.8 506.5 336.9 508.6 335.8 510 335.5 511.4 335.8 512.8 336.4 514.9 338 517 340 518.6 342.4 520.9 347.4 522.5 350 525.4 352.7 528.9 355.3 538.4 361 543.5 363.5 549.3 365.1 560 367.3" stroke="#808080" stroke-width="2.6"/>
<path d="M490 367.3 500 366.6 504.3 366.1 506.4 365.5 507.9 364.7 511.4 361.4 515.8 356.7 518 353.9 522.5 347.5 527.2 339.3 528.8 337.9 531 336.2 532.5 335.6 533.2 335.5 534 335.6 535.5 336.2 538.5 338.5 540 340.6 543 346.4 545.9 350.1 548.1 352.3 551 354.8 559.1 360.9 562.8 363.1 565.7 364.2 570.7 365.5 580 367.3" stroke="#808080" stroke-width="2.6"/>
<path d="M520 367.3 530 366.6 535 366 537.9 365.1 540.9 363.5 550.5 356.5 555 352.5 557.2 349.8 565.6 338.3 567.2 336.6 570.2 334.8 572.5 334.2 574.1 334.5 575.6 335 578.7 336.3 580.1 337.2 586.4 342.1 595 349.9 598.6 352.8 605.1 356.7 611.8 359.7 623.8 363.8 628 364.9 632.2 365.7 641.4 366.5 660 367.3" stroke="#808080" stroke-width="2.6"/>
<path d="M500 367.3 520.7 366.4 525.7 365.9 528.6 365.3 532.1 364 537.1 361.6 546.4 356.8 555 351.4 558.6 349.6 568 346.3 570.9 345.7 573.8 345.5 575.9 345.7 578 346.1 585 348.5 587.2 349.5 591.8 352.1 595.4 353.8 601.1 356.4 605.4 358.1 616 361.3 625.2 363.6 632.2 365 639.3 365.9 649.2 366.5 669 367.3" stroke="#808080" stroke-width="2.6"/>
<path d="M505 367.3 522.9 365.3 527.9 364.5 531.4 363.6 533.6 362.5 536.4 360.7 551.5 348.8 553 348 556.5 346.6 558.6 346.1 560 346 562.8 346.4 569.2 348.1 614.3 362.6 622.9 364.9 627.9 365.8 632.9 366.2 660 367.3" stroke="#808080" stroke-width="2.6"/>
<path d="M375.8 364 379.5 327 382 295 383.5 284.2 384.2 280.1 385.9 274 386.8 271.7 387.7 270.7 388.5 271.5 389.2 273.5 390 276 390.8 279.4 397 325 399.9 342.6 401.3 349.5 402.7 354 404.2 357.3 410 367.3" stroke="#808080" stroke-width="2.6"/>
<path d="M376 367.3 380.5 355.4 382 350 382.7 346.5 384.1 337.1 391 285 392.7 275.2 393.5 272 394.4 269.8 395.3 268.8 396.3 270.1 397.3 273 398.2 277.3 405.4 329.9 406.9 339.6 408.3 347.3 409.8 352.2 411.2 355.8 412.8 358.7 418 367.3" stroke="#808080" stroke-width="2.6"/>
<path d="M382 367.3 386.4 361.6 388.5 358.2 390 355 391.5 349.3 393 340.6 396 320 402.8 270.1 404.3 264.3 405.1 262.2 405.9 261.3 406.6 262.1 408 266 408.7 268.6 410.2 275.9 411.7 284.8 414.7 307 418.3 331.2 420.5 342.2 422.8 351.8 424.2 356.4 425 358 426.5 360.2 428.8 362.7 434 367.3" stroke="#808080" stroke-width="2.6"/>
<path d="M375.8 328.3 377.8 312.6 378.8 306.3 379.8 301.9 380.8 300.1 381.8 300.4 382.8 302.2 383.8 305.2 384.8 309.3 390.8 342.4 392.8 351.4 394.8 358.1 396.8 362.5 397.8 364 399.8 366 400.8 366.6 402.8 367.3 404.8 367.6 408.8 367.8" stroke="#808080" stroke-width="2.6"/>
<path d="M375.8 348.2 379.8 328.8 381.8 321.2 382.8 319 383.8 318 384.8 318.2 385.8 319 386.8 320.4 388.8 324.6 390.8 330.4 395.8 346.7 397.8 352.4 399.8 357.1 400.8 359.1 402.8 362.2 403.8 363.4 405.8 365.2 408.8 366.7 412.8 367.5 419.8 367.8" stroke="#808080" stroke-width="2.6"/>
<path d="M375.8 364 376.8 362.2 377.8 359.9 379.8 353 381.8 343.1 386.8 313.3 387.8 309.1 388.8 306.2 389.8 305 390.8 305.3 391.8 306.6 392.8 308.7 393.8 311.7 395.8 319.5 401.8 346.6 403.8 353.6 404.8 356.5 406.8 360.9 408.8 363.8 409.8 364.9 411.8 366.3 413.8 367 415.8 367.5 421.8 367.8" stroke="#808080" stroke-width="2.6"/>
<path d="M375.8 365.6 377.8 363.5 378.8 361.9 380.8 357.8 383.8 348.5 387.8 333 389.8 326.5 390.8 324.2 391.8 322.7 392.8 322 393.8 322.1 394.8 322.7 395.8 323.8 397.8 327 399.8 331.5 405.8 347.6 407.8 352.5 410.8 358.4 413.8 362.5 416.8 365.1 418.8 366.2 420.8 366.8 425.8 367.6 432.8 367.8" stroke="#808080" stroke-width="2.6"/>
<path d="M375.8 367.8 379.8 367.5 381.8 366.9 382.8 366.3 383.8 365.5 384.8 364.4 385.8 362.8 386.8 360.7 388.8 354.6 389.8 350.6 395.8 319.4 396.8 315.6 397.8 313.1 398.8 312 399.8 312.3 400.8 313.4 401.8 315.3 402.8 318 404.8 324.9 410.8 349 412.8 355.2 413.8 357.7 415.8 361.6 417.8 364.3 418.8 365.2 420.8 366.4 422.8 367.1 424.8 367.5 430.8 367.8" stroke="#808080" stroke-width="2.6"/>
<path d="M382 367.8 384 367.7 386 367.3 387 366.9 388 366.3 389 365.2 390 363.4 391 360.9 392 357.3 393 352.4 395 338.6 398 311.3 400 296 401 291.5 402 290 403 290.8 404 293.1 405 296.8 407 307.5 412 339.8 414 349.9 416 357.3 418 362.1 419 363.7 421 365.8 422 366.5 424 367.2 426 367.6 430 367.8" stroke="#808080" stroke-width="2.6"/>
<path d="M379 367.8 385 367.4 388 366.5 390 365.2 391 364.1 393 361.1 395 356.3 397 349.8 402 329.2 404 322.4 405 320 406 318.5 407 318 408 318.3 409 319.2 410 320.7 411 322.7 413 327.9 420 350.3 423 357.5 425 361.1 426 362.4 428 364.5 429 365.3 431 366.4 433 367 435 367.4 438 367.7 443 367.8" stroke="#808080" stroke-width="2.6"/>
<path d="M387 367.8 390 367.7 392 367.4 394 366.6 395 365.9 396 365 397 363.5 398 361.6 399 359 401 351.6 402 346.8 408 310.6 409 306.5 410 303.9 411 303 412 303.5 413 305 414 307.4 415 310.6 417 318.9 421 338.1 423 346.8 425 353.8 427 359 428 361 430 363.9 431 365 433 366.3 435 367.1 437 367.5 443 367.8" stroke="#808080" stroke-width="2.6"/>
<path d="M383 367.8 389 367.6 393 366.8 395 366 396 365.3 398 363.4 399 362.1 401 358.8 403 354.2 405 348.7 409 336.2 411 330.9 412 328.8 413 327.3 414 326.3 415 326 416 326.2 417 326.7 418 327.5 420 330.1 423 335.7 429 349.2 432 355.1 435 359.8 438 363.1 440 364.6 442 365.7 444 366.5 446 367 451 367.6 459 367.8" stroke="#808080" stroke-width="2.6"/>
<path d="M397 367.8 402 367.4 404 366.8 405 366.1 406 365.3 407 364 408 362.3 409 360 411 353.4 412 349 418 316.8 419 313.1 420 310.8 421 310 422 310.4 423 311.8 424 313.9 425 316.8 427 324.2 431 341.3 433 349 435 355.3 437 360 438 361.8 440 364.4 441 365.3 443 366.5 445 367.2 447 367.5 453 367.8" stroke="#808080" stroke-width="2.6"/>
<path d="M392 367.8 398 367.6 402 366.8 404 365.9 405 365.2 407 363.3 408 362 410 358.5 412 353.9 414 348.2 418 335.5 420 330 421 327.9 422 326.3 423 325.3 424 325 425 325.2 426 325.8 427 326.9 429 330 431 334.3 436 347 439 353.9 442 359.3 445 363.1 448 365.4 450 366.3 452 367 457 367.6 464 367.8" stroke="#808080" stroke-width="2.6"/>
<path d="M406 367.8 409 367.7 411 367.3 413 366.6 414 365.9 415 364.8 416 363.3 417 361.3 418 358.6 420 350.9 421 345.8 427 308 428 303.7 429 300.9 430 300 431 300.5 432 302.1 433 304.6 434 308 436 316.6 440 336.8 442 345.8 444 353.1 446 358.6 447 360.7 449 363.8 450 364.8 452 366.3 454 367 456 367.5 462 367.8" stroke="#808080" stroke-width="2.6"/>
<path d="M402 367.8 408 367.6 410 367.3 412 366.7 414 365.7 415 365 417 362.8 418 361.3 420 357.5 422 352.3 424 345.9 428 331.7 430 325.6 431 323.2 432 321.5 433 320.4 434 320 435 320.2 436 320.8 437 321.7 439 324.7 442 331.1 448 346.5 451 353.3 454 358.6 457 362.4 459 364.2 461 365.4 463 366.3 465 366.9 470 367.6 478 367.8" stroke="#808080" stroke-width="2.6"/>
<path d="M416 367.8 419 367.7 421 367.4 423 366.7 424 366 425 365 426 363.7 427 361.8 428 359.3 430 352.1 431 347.4 437 312.4 438 308.4 439 305.9 440 305 441 305.4 442 306.5 443 308.4 444 310.9 446 317.5 453 345.7 456 354.9 458 359.3 459 361 461 363.7 462 364.6 464 366 466 366.8 468 367.3 471 367.6 476 367.8" stroke="#808080" stroke-width="2.6"/>
<path d="M408 367.8 416 367.5 420 366.7 423 365.2 425 363.5 426 362.4 428 359.6 431 353.8 438 335.9 440 331.7 441 330.2 442 329 443 328.2 444 328 445 328.1 447 329.2 448 330.2 450 332.7 453 337.8 459 349.6 462 354.9 465 359.2 467 361.5 469 363.3 471 364.6 473 365.7 477 366.9 483 367.6 492 367.8" stroke="#808080" stroke-width="2.6"/>
<path d="M419 367.8 425 367.5 427 367.2 429 366.7 431 365.6 432 364.8 434 362.6 435 361.1 437 357 439 351.6 441 345 445 330.2 447 323.9 448 321.4 449 319.5 450 318.4 451 318 452 318.2 453 319 454 320.2 456 323.9 458 328.8 463 343.6 466 351.6 469 357.9 472 362.3 473 363.4 475 365 477 366.1 479 366.8 481 367.2 484 367.6 491 367.8" stroke="#808080" stroke-width="2.6"/>
<path d="M426 367.8 434 367.5 438 366.8 441 365.4 443 363.9 444 363 446 360.4 449 355.2 456 339.1 458 335.4 460 332.9 461 332.2 462 332 463 332.1 465 333.1 466 333.9 468 336.2 471 340.8 477 351.4 480 356.2 483 360.1 485 362.1 487 363.7 489 365 491 365.9 495 367 501 367.6 510 367.8" stroke="#808080" stroke-width="2.6"/>
<path d="M438 367.8 444 367.6 448 366.8 450 366 451 365.3 453 363.4 454 362.1 456 358.8 458 354.2 460 348.7 464 336.2 466 330.9 467 328.8 468 327.3 469 326.3 470 326 471 326.2 472 326.7 473 327.5 475 330.1 478 335.7 484 349.2 487 355.1 490 359.8 493 363.1 495 364.6 497 365.7 499 366.5 501 367 506 367.6 514 367.8" stroke="#808080" stroke-width="2.6"/>
<path d="M438 367.8 445 367.7 450 367.2 454 366.1 457 364.5 460 361.9 463 358.1 466 353.3 471 344.5 473 341.5 475 339.3 476 338.6 477 338.1 478 338 479 338.1 481 338.7 483 339.8 485 341.5 488 344.7 495 353.5 499 358.1 503 361.7 507 364.3 509 365.2 512 366.2 517 367.2 523 367.6 534 367.8" stroke="#808080" stroke-width="2.6"/>
<path d="M454 367.8 460 367.6 464 366.9 467 365.5 469 363.8 470 362.7 472 359.6 474 355.5 476 350.5 480 339.3 482 334.4 483 332.6 484 331.2 485 330.3 486 330 487 330.2 488 330.6 489 331.4 491 333.7 494 338.8 500 351 503 356.3 506 360.6 509 363.6 511 364.9 513 365.9 517 367.1 522 367.6 530 367.8" stroke="#808080" stroke-width="2.6"/>
<path d="M453 367.8 460 367.7 465 367.3 469 366.4 472 365 475 362.7 478 359.4 481 355.2 486 347.6 488 345 490 343.1 491 342.5 492 342.1 493 342 494 342.1 496 342.6 498 343.6 500 345 503 347.8 510 355.5 514 359.4 518 362.6 522 364.8 524 365.6 527 366.4 532 367.3 538 367.7 549 367.8" stroke="#808080" stroke-width="2.6"/>
<path d="M375.8 333.8 379.8 330.4 383.8 327.7 385.8 327 389.8 327.6 395.8 329.4 401.8 331.8 433.8 346.6 443.8 350.7 453.8 354.3 463.8 357.3 475.8 360.2 487.8 362.4 499.8 364.1 511.8 365.3 523.8 366.1 537.8 366.8 553.8 367.2 593.8 367.7 667.8 367.8" stroke="#808080" stroke-width="2.6"/>
<path d="M375.8 340.2 381.8 336.4 387.8 333.2 389.8 332.5 391.8 332 393.8 332.1 401.8 333.3 411.8 335.7 421.8 338.5 453.8 348.1 465.8 351.3 475.8 353.8 485.8 356 495.8 358 505.8 359.7 517.8 361.5 529.8 362.9 543.8 364.2 559.8 365.3 575.8 366.1 613.8 367.2 667.8 367.7" stroke="#808080" stroke-width="2.6"/>
<path d="M375.8 345.8 387.8 340.2 393.8 337.7 397.8 336.4 399.8 336 401.8 336.1 409.8 337.2 419.8 339.2 461.8 348.9 483.8 353.5 505.8 357.3 529.8 360.5 543.8 362 557.8 363.2 587.8 365.1 623.8 366.4 667.8 367.3" stroke="#808080" stroke-width="2.6"/>
<path d="M375.8 343.7 381.8 341.5 385.8 340.4 387.8 340 391.8 340.2 401.8 341.3 413.8 343 461.8 350.7 485.8 354.3 509.8 357.4 533.8 360 561.8 362.3 593.8 364.2 627.8 365.6 667.8 366.6" stroke="#808080" stroke-width="2.6"/>
<path d="M375.8 351.6 393.8 343.4 401.8 340.1 407.8 338.3 409.8 338 411.8 338.1 419.8 339 431.8 341.1 477.8 351.5 497.8 355.5 517.8 358.9 537.8 361.5 549.8 362.8 563.8 364 591.8 365.7 625.8 366.8 667.8 367.5" stroke="#808080" stroke-width="2.6"/>
<path d="M375.8 355.4 411.8 344.6 417.8 343.3 419.8 343 421.8 343.1 431.8 343.9 443.8 345.4 493.8 352.6 515.8 355.5 535.8 357.9 555.8 359.9 581.8 362.1 607.8 363.7 635.8 365 667.8 366.1" stroke="#808080" stroke-width="2.6"/>
<path d="M375.8 350.3 385.8 348 393.8 346.5 397.8 346 403.8 346.2 415.8 347 431.8 348.4 511.8 356.3 553.8 359.8 579.8 361.5 607.8 363 637.8 364.3 667.8 365.3" stroke="#808080" stroke-width="2.6"/>
<path d="M375.8 360.2 383.8 358.4 391.8 356.3 423.8 347 431.8 345.3 435.8 345 445.8 345.7 457.8 347 525.8 356.9 545.8 359.4 565.8 361.4 587.8 363.3 611.8 364.7 637.8 365.9 667.8 366.7" stroke="#808080" stroke-width="2.6"/>
<path d="M375.8 362.5 385.8 361 397.8 358.9 437.8 350.5 443.8 349.6 449.8 349 461.8 349.5 477.8 350.8 545.8 358 583.8 361.4 603.8 362.8 623.8 364 667.8 365.8" stroke="#808080" stroke-width="2.6"/>
<path d="M375.8 356 395.8 353.1 405.8 351.8 413.8 351 419.8 351.1 453.8 352.6 537.8 357.8 579.8 360.1 623.8 362.1 667.8 363.7" stroke="#808080" stroke-width="2.6"/>
<path d="M375.8 364.3 389.8 363 403.8 361.3 419.8 359 453.8 353.6 463.8 352.4 469.8 352 483.8 352.5 501.8 353.6 571.8 359.1 605.8 361.5 635.8 363.3 667.8 364.7" stroke="#808080" stroke-width="2.6"/>
<path d="M375.8 360.4 423.8 356 435.8 355.2 441.8 355 479.8 356.1 597.8 360.7 667.8 363" stroke="#808080" stroke-width="2.6"/>
<path d="M375.8 366.1 397.8 365.1 419.8 363.5 441.8 361.5 481.8 357.2 491.8 356.4 499.8 356 513.8 356.3 533.8 357.1 619.8 361.7 667.8 363.8" stroke="#808080" stroke-width="2.6"/>
<path d="M375.8 362.7 437.8 358.9 459.8 358 511.8 358.9 667.8 362.7" stroke="#808080" stroke-width="2.6"/>
<path d="M375.8 366.7 403.8 365.9 431.8 364.7 457.8 363.3 509.8 359.8 529.8 359 547.8 359.2 571.8 359.9 667.8 363" stroke="#808080" stroke-width="2.6"/>
<path d="M375.8 364.4 461.8 361.6 489.8 361 545.8 361.5 667.8 363.4" stroke="#808080" stroke-width="2.6"/>
<path d="M375.8 367.1 411.8 366.4 445.8 365.6 477.8 364.5 535.8 362.1 557.8 361.5 597.8 361.9 667.8 363.3" stroke="#808080" stroke-width="2.6"/>
<path d="M375.8 365.5 485.8 363.4 519.8 363 667.8 364.1" stroke="#808080" stroke-width="2.6"/>
<path d="M375.8 367.2 459.8 366.2 591.8 363.6 617.8 363.6 667.8 364.1" stroke="#808080" stroke-width="2.6"/>
<path d="M375.8 366.6 555.8 365 667.8 365.4" stroke="#808080" stroke-width="2.6"/>
<path d="M397 367.3 402.8 367 411.8 365.5 414 364.6 416.4 362.1 418 360 419.6 357.4 422 352.5 423.6 348.7 426 342 429.5 330 432.7 320.7 435.9 314.9 436.7 314.1 437.5 313.8 438.3 314 439.1 314.7 440.7 316.8 442.3 319.4 443.9 323.3 446.2 330.3 450.2 341.1 452.6 346.5 455 351.1 457.2 355 459.5 358.3 461 360 464 362.7 466.2 364.2 467.7 364.7 472.1 366 476.6 366.8 482.3 367.1 502 367.3" stroke="#f02514" stroke-width="2.6"/>
</g>
<rect x="375.8" y="1.6" width="293.59999999999997" height="366.2" fill="none" stroke="#111" stroke-width="1.4"/>
<line x1="375.8" y1="367.8" x2="375.8" y2="373.6" stroke="#111" stroke-width="1.2"/>
<text x="375.8" y="393" text-anchor="middle" class="tk">0</text>
<line x1="449.2" y1="367.8" x2="449.2" y2="373.6" stroke="#111" stroke-width="1.2"/>
<text x="449.2" y="393" text-anchor="middle" class="tk">100</text>
<line x1="522.6" y1="367.8" x2="522.6" y2="373.6" stroke="#111" stroke-width="1.2"/>
<text x="522.6" y="393" text-anchor="middle" class="tk">200</text>
<line x1="596.0" y1="367.8" x2="596.0" y2="373.6" stroke="#111" stroke-width="1.2"/>
<text x="596.0" y="393" text-anchor="middle" class="tk">300</text>
<line x1="669.4" y1="367.8" x2="669.4" y2="373.6" stroke="#111" stroke-width="1.2"/>
<text x="669.4" y="393" text-anchor="middle" class="tk">400</text>
<text x="522.6" y="416" text-anchor="middle" class="lb" textLength="177.5" lengthAdjust="spacingAndGlyphs">Y<tspan dy="3" font-size="11.8">0</tspan><tspan dy="-3"> (year before 2010)</tspan></text>
<text x="27.0" y="20.6" class="pl">a</text>
<text x="379.0" y="20.6" class="pl">b</text>
<text transform="translate(13.4,185.5) rotate(-90)" text-anchor="middle" class="lb" textLength="154.5" lengthAdjust="spacingAndGlyphs">Probability density</text>
<line x1="427.7" y1="24.4" x2="475.6" y2="24.4" stroke="#808080" stroke-width="1.2"/>
<line x1="427.7" y1="41.4" x2="475.6" y2="41.4" stroke="#f02514" stroke-width="1.2"/>
<text x="483.4" y="27.5" class="lg" textLength="142.5" lengthAdjust="spacingAndGlyphs">Individual sediment</text>
<text x="483.4" y="44.8" class="lg" textLength="172.5" lengthAdjust="spacingAndGlyphs">Global hyper-parameter</text>
</svg>
</body></html>
